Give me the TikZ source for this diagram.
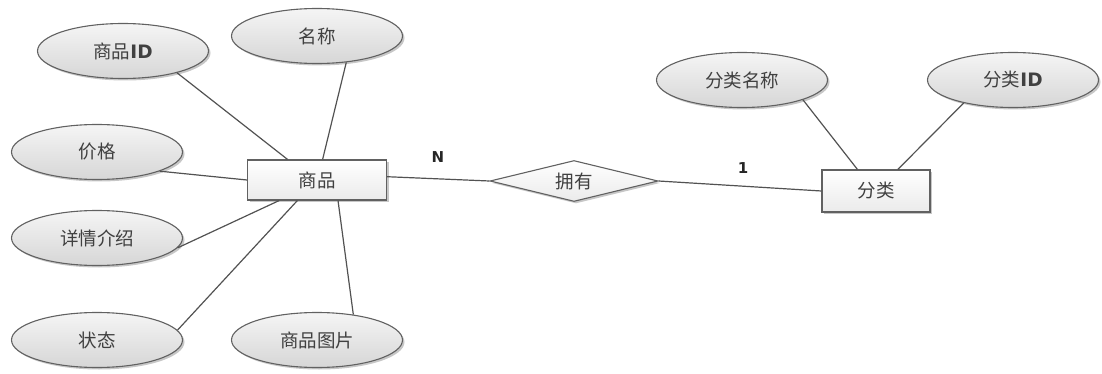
\documentclass[tikz,border=0pt]{standalone}
\usepackage{fontspec}
\setmainfont{Noto Sans CJK SC}
\newfontfamily\latb{DejaVu Sans}
\usetikzlibrary{shapes.geometric,shadows,calc}
\begin{document}
\begin{tikzpicture}[x=1pt,y=-1pt,
  cjk/.style={font=\fontsize{18.5}{18.5}\selectfont, text=black!75},
  shadowed/.style={drop shadow={shadow xshift=2pt, shadow yshift=-2pt, opacity=0.22, fill=black}},
  attr/.style={ellipse, draw=black!62, line width=1.1pt, top color=black!4, bottom color=black!16, inner sep=0pt,
    minimum width=171pt, minimum height=55pt, cjk, shadowed},
  ent/.style={rectangle, draw=black!62, line width=1.1pt, top color=white, bottom color=black!8, inner sep=0pt, cjk, shadowed},
  rel/.style={diamond, draw=black!62, line width=1.1pt, top color=white, bottom color=black!8, inner sep=0pt, aspect=4,
    minimum width=168pt, minimum height=41pt, cjk, shadowed},
  link/.style={draw=black!68, line width=1.2pt},
  card/.style={font=\latb\bfseries\fontsize{15}{15}\selectfont, text=black!85}
]
\useasboundingbox (0,0) rectangle (1102,374);

% entities
\node[ent, minimum width=139pt, minimum height=40pt] (sp) at (317,180) {商品};
\node[ent, minimum width=108pt, minimum height=42pt] (fl) at (876,191) {分类};
\node[rel] (yy) at (574,181) {拥有};

% attributes
\node[attr] (spid) at (123,51) {商品{\latb\bfseries ID}};
\node[attr] (mc) at (317,36) {名称};
\node[attr] (jg) at (97,152) {价格};
\node[attr] (xq) at (97,238) {详情介绍};
\node[attr] (zt) at (97,340) {状态};
\node[attr] (tp) at (317,340) {商品图片};
\node[attr] (flmc) at (742,80) {分类名称};
\node[attr] (flid) at (1013,80) {分类{\latb\bfseries ID}};

% connectors
\draw[link] (spid.-22) -- ($(sp.north west)!0.29!(sp.north east)$);
\draw[link] (mc.-42) -- ($(sp.north west)!0.54!(sp.north east)$);
\draw[link] (jg.-17) -- (sp.west);
\draw[link] (xq.-7) -- ($(sp.south west)!0.23!(sp.south east)$);
\draw[link] (zt.7) -- ($(sp.south west)!0.36!(sp.south east)$);
\draw[link] (tp.35) -- ($(sp.south west)!0.65!(sp.south east)$);
\draw[link] ($(sp.north east)!0.42!(sp.south east)$) -- (yy.west);
\draw[link] (yy.east) -- (fl.west);
\draw[link] (flmc.-18) -- ($(fl.north west)!0.33!(fl.north east)$);
\draw[link] (flid.-155) -- ($(fl.north west)!0.70!(fl.north east)$);

% cardinalities
\node[card] (n) at (438,157) {N};
\node[card] (one) at (743,168) {1};
\end{tikzpicture}
\end{document}
